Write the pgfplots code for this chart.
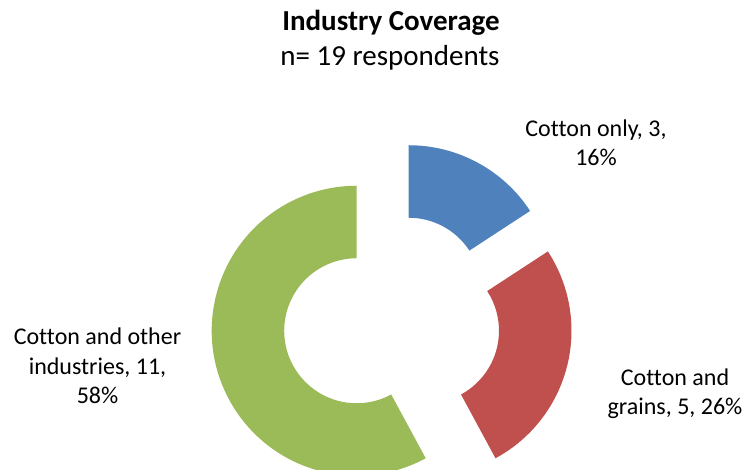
\documentclass[border=0pt]{standalone}
\usepackage{pgfplots}
\usepackage{pgfplotstable}
\pgfplotsset{compat=1.18}
\usetikzlibrary{calc}
\usepackage{fontspec}
\setmainfont{Carlito}[Ligatures={NoCommon}]
\definecolor{cblue}{HTML}{4F81BD}
\definecolor{cred}{HTML}{C0504D}
\definecolor{cgreen}{HTML}{9BBB59}
\pgfplotstableread{
name value
only 3
grains 5
other 11
}\datatable
\pgfplotstablegetelem{0}{value}\of\datatable \let\vA\pgfplotsretval
\pgfplotstablegetelem{1}{value}\of\datatable \let\vB\pgfplotsretval
\pgfplotstablegetelem{2}{value}\of\datatable \let\vC\pgfplotsretval
\pgfmathsetmacro\tot{\vA+\vB+\vC}
\pgfmathsetmacro\aA{0}
\pgfmathsetmacro\bA{\vA/\tot*360}
\pgfmathsetmacro\aB{\bA}
\pgfmathsetmacro\bB{(\vA+\vB)/\tot*360}
\pgfmathsetmacro\aC{\bB}
\pgfmathsetmacro\bC{360}
\pgfmathsetmacro\mA{(\aA+\bA)/2}
\pgfmathsetmacro\mB{(\aB+\bB)/2}
\pgfmathsetmacro\mC{(\aC+\bC)/2}
\def\R{145pt}
\def\r{72.5pt}
\def\d{36pt}
\begin{document}
\begin{tikzpicture}
\begin{axis}[
  x=1pt, y=1pt, y dir=reverse,
  xmin=0, xmax=746, ymin=0, ymax=470,
  hide axis, clip=true,
]
\coordinate (C) at (axis cs:391.6,321.9);
\coordinate (LL) at (axis cs:0,470);
\coordinate (UR) at (axis cs:746,0);
\fill[cblue] ($(C)+(90-\mA:\d)+(90-\aA:\R)$) arc[start angle=90-\aA, end angle=90-\bA, radius=\R]
  -- ($(C)+(90-\mA:\d)+(90-\bA:\r)$) arc[start angle=90-\bA, end angle=90-\aA, radius=\r] -- cycle;
\fill[cred] ($(C)+(90-\mB:\d)+(90-\aB:\R)$) arc[start angle=90-\aB, end angle=90-\bB, radius=\R]
  -- ($(C)+(90-\mB:\d)+(90-\bB:\r)$) arc[start angle=90-\bB, end angle=90-\aB, radius=\r] -- cycle;
\fill[cgreen] ($(C)+(90-\mC:\d)+(90-\aC:\R)$) arc[start angle=90-\aC, end angle=90-\bC, radius=\R]
  -- ($(C)+(90-\mC:\d)+(90-\bC:\r)$) arc[start angle=90-\bC, end angle=90-\aC, radius=\r] -- cycle;
\node[font=\fontsize{29}{35}\selectfont\bfseries] at (axis cs:391,23) {Industry Coverage};
\node[font=\fontsize{29}{35}\selectfont] at (axis cs:390,58) {n= 19 respondents};
\node[font=\fontsize{24}{29.3}\selectfont, align=center] at (axis cs:596,143) {Cotton only, 3,\\16\%};
\node[font=\fontsize{24}{29.3}\selectfont, align=center] at (axis cs:675,394) {Cotton and\\grains, 5, 26\%};
\node[font=\fontsize{24}{29.3}\selectfont, align=center] at (axis cs:97.5,366) {Cotton and other\\industries, 11,\\58\%};
\end{axis}
\pgfresetboundingbox
\path[use as bounding box] (LL) rectangle (UR);
\end{tikzpicture}
\end{document}
